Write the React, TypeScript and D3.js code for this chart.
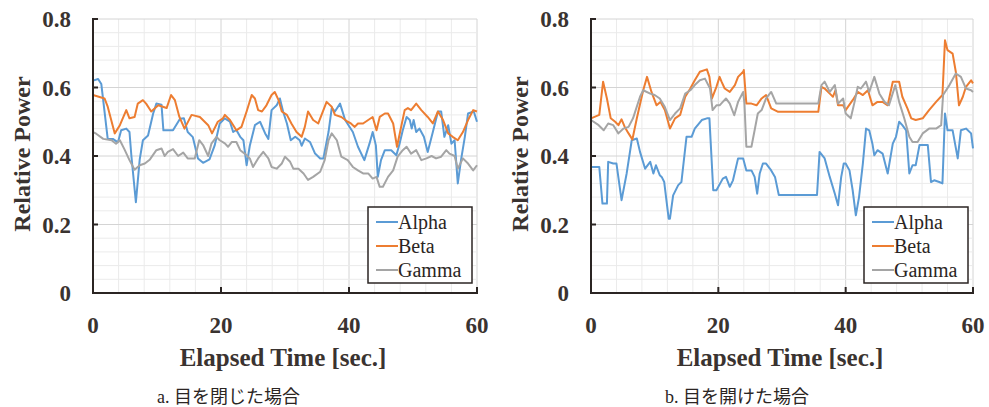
import React from "react";
import * as d3 from "d3";

type P = [number, number];

const xTicks = [0, 20, 40, 60];
const yTicks = [0, 0.2, 0.4, 0.6, 0.8];
const yTickLabels = ["0", "0.2", "0.4", "0.6", "0.8"];
const seriesNames = ["Alpha", "Beta", "Gamma"];
const seriesColors = ["#5b9bd5", "#ed7d31", "#a5a5a5"];
const captions = ["a. 目を閉じた場合", "b. 目を開けた場合"];

const alphaA: P[] = [[0,0.62],[0.8,0.625],[1.3,0.61],[2.3,0.45],[3.1,0.45],[3.9,0.44],[4.4,0.475],[5.2,0.48],[5.7,0.47],[6.0,0.40],[6.7,0.265],[7.3,0.39],[7.8,0.446],[8.6,0.46],[9.4,0.524],[9.9,0.553],[10.7,0.55],[11.0,0.475],[12.5,0.475],[13.6,0.509],[14.2,0.51],[14.8,0.47],[15.6,0.455],[16.4,0.393],[17.2,0.38],[18.2,0.39],[19.0,0.43],[19.8,0.495],[20.6,0.51],[21.4,0.5],[21.9,0.47],[22.4,0.476],[23.0,0.456],[23.5,0.446],[24.0,0.373],[24.5,0.43],[25.3,0.49],[26.1,0.5],[26.9,0.466],[27.4,0.45],[27.9,0.534],[28.7,0.548],[29.2,0.568],[29.7,0.53],[30.3,0.495],[30.9,0.446],[31.6,0.456],[32.3,0.446],[32.6,0.43],[33.1,0.451],[33.9,0.441],[34.7,0.407],[35.5,0.393],[36.0,0.393],[36.8,0.47],[37.3,0.54],[37.8,0.53],[38.6,0.553],[39.4,0.505],[40.6,0.47],[41.4,0.427],[42.4,0.388],[43.2,0.436],[43.7,0.47],[44.2,0.431],[44.5,0.339],[45.0,0.388],[45.6,0.417],[46.6,0.417],[47.4,0.402],[47.9,0.436],[48.4,0.475],[49.0,0.514],[49.5,0.505],[49.8,0.48],[50.1,0.505],[50.5,0.47],[51.0,0.48],[51.7,0.456],[52.3,0.412],[53.1,0.47],[53.9,0.53],[54.4,0.53],[54.9,0.456],[55.5,0.49],[56.0,0.436],[56.5,0.446],[57.0,0.32],[57.5,0.388],[58.1,0.456],[58.6,0.524],[59.5,0.53],[60,0.5]];

const betaA: P[] = [[0,0.578],[1.8,0.568],[2.3,0.544],[3.4,0.466],[4.2,0.49],[5.2,0.534],[5.7,0.51],[6.5,0.514],[7.0,0.553],[7.8,0.563],[8.3,0.553],[9.1,0.53],[10.2,0.548],[11.5,0.54],[12.2,0.578],[12.8,0.563],[13.5,0.514],[14.3,0.48],[15.4,0.52],[16.7,0.514],[18.0,0.49],[18.6,0.466],[19.5,0.5],[20.3,0.51],[20.6,0.52],[21.4,0.505],[22.4,0.475],[23.2,0.485],[24.0,0.53],[24.8,0.578],[25.3,0.568],[25.8,0.534],[26.4,0.53],[27.1,0.548],[27.9,0.578],[28.4,0.587],[29.0,0.563],[29.5,0.53],[30.3,0.52],[31.0,0.495],[31.8,0.47],[32.6,0.456],[33.1,0.485],[33.6,0.53],[34.4,0.505],[35.2,0.495],[36.0,0.534],[36.5,0.558],[37.3,0.544],[37.8,0.52],[38.8,0.514],[39.8,0.5],[40.3,0.495],[40.9,0.485],[41.4,0.495],[42.2,0.495],[43.0,0.505],[43.7,0.514],[44.3,0.475],[44.8,0.514],[45.6,0.524],[46.1,0.524],[46.9,0.495],[47.5,0.427],[48.2,0.49],[48.7,0.534],[49.2,0.54],[49.7,0.534],[50.5,0.553],[51.3,0.534],[52.3,0.514],[53.1,0.495],[53.9,0.53],[54.7,0.505],[55.5,0.466],[56.2,0.456],[57.0,0.446],[57.8,0.47],[58.6,0.505],[59.4,0.534],[60,0.53]];

const gammaA: P[] = [[0,0.47],[0.5,0.465],[1.6,0.45],[2.9,0.446],[3.6,0.436],[4.2,0.446],[4.9,0.42],[5.7,0.388],[6.5,0.36],[7.3,0.373],[8.1,0.378],[8.9,0.39],[9.9,0.417],[10.7,0.422],[11.2,0.40],[11.7,0.412],[12.5,0.42],[13.3,0.4],[14.1,0.41],[14.8,0.393],[15.9,0.393],[16.6,0.446],[17.2,0.432],[18.0,0.40],[18.5,0.436],[19.3,0.456],[19.8,0.446],[20.6,0.437],[21.1,0.427],[21.7,0.441],[22.4,0.441],[23.0,0.417],[23.7,0.407],[24.5,0.393],[25.0,0.368],[25.8,0.393],[26.6,0.412],[27.4,0.393],[27.9,0.368],[28.7,0.363],[29.5,0.378],[30.0,0.398],[30.8,0.383],[31.3,0.363],[32.1,0.363],[32.9,0.349],[33.6,0.33],[34.4,0.339],[35.5,0.354],[36.2,0.388],[36.8,0.446],[37.3,0.466],[38.1,0.446],[38.8,0.398],[39.8,0.388],[40.6,0.368],[41.4,0.358],[42.2,0.349],[43.0,0.349],[43.7,0.334],[44.3,0.339],[44.8,0.31],[45.3,0.31],[46.1,0.339],[46.9,0.358],[47.6,0.398],[48.4,0.417],[49.0,0.427],[49.7,0.407],[50.5,0.417],[51.3,0.388],[52.1,0.393],[52.9,0.4],[53.6,0.393],[54.4,0.398],[55.2,0.417],[55.7,0.407],[56.5,0.4],[57.0,0.363],[57.8,0.393],[58.6,0.378],[59.4,0.358],[60,0.373]];

const alphaB: P[] = [[0,0.368],[1.3,0.368],[1.8,0.261],[2.5,0.261],[2.7,0.383],[3.5,0.378],[4.0,0.378],[4.8,0.271],[5.6,0.349],[6.4,0.446],[7.2,0.451],[7.7,0.412],[8.5,0.363],[9.3,0.383],[9.8,0.349],[10.2,0.373],[10.8,0.344],[11.1,0.339],[11.5,0.324],[12.2,0.217],[12.4,0.217],[12.9,0.285],[13.7,0.315],[14.2,0.324],[15.0,0.456],[15.8,0.456],[16.3,0.48],[17.4,0.505],[18.2,0.51],[18.6,0.51],[19.2,0.3],[19.7,0.3],[20.7,0.334],[21.2,0.339],[21.8,0.31],[22.3,0.329],[23.1,0.393],[23.9,0.393],[24.4,0.358],[25.2,0.358],[25.7,0.339],[26.1,0.29],[26.5,0.349],[27.0,0.378],[27.5,0.378],[28.3,0.358],[28.9,0.339],[29.5,0.286],[35.5,0.286],[35.9,0.412],[36.7,0.393],[37.5,0.339],[38.3,0.29],[38.8,0.256],[39.3,0.339],[39.7,0.378],[40.0,0.378],[40.6,0.358],[41.1,0.30],[41.6,0.227],[42.1,0.28],[42.7,0.378],[43.2,0.48],[43.7,0.475],[44.2,0.436],[44.5,0.402],[45.0,0.417],[45.8,0.407],[46.6,0.349],[47.4,0.436],[47.9,0.456],[48.4,0.5],[48.9,0.49],[49.5,0.475],[50.0,0.349],[50.5,0.373],[51.0,0.373],[51.6,0.432],[52.9,0.432],[53.4,0.324],[53.9,0.329],[54.7,0.324],[55.2,0.32],[55.6,0.524],[56.0,0.475],[56.8,0.475],[57.6,0.393],[58.1,0.475],[58.9,0.48],[59.7,0.466],[60,0.422]];

const betaB: P[] = [[0,0.51],[1.3,0.52],[1.9,0.617],[2.5,0.568],[3.1,0.51],[3.8,0.5],[4.3,0.49],[4.8,0.507],[5.3,0.485],[5.9,0.466],[6.5,0.448],[7.2,0.51],[8.2,0.592],[8.8,0.631],[9.5,0.587],[10.3,0.548],[10.9,0.558],[11.6,0.534],[12.4,0.48],[13.2,0.51],[14.0,0.52],[14.8,0.573],[15.6,0.597],[16.3,0.621],[17.1,0.646],[18.2,0.653],[18.6,0.631],[19.0,0.568],[19.7,0.602],[20.2,0.631],[20.5,0.617],[21.0,0.597],[21.8,0.587],[22.6,0.607],[23.1,0.631],[23.9,0.646],[24.0,0.651],[24.4,0.553],[25.2,0.553],[26.0,0.548],[26.8,0.568],[27.5,0.578],[28.3,0.539],[29.4,0.529],[35.7,0.529],[36.2,0.602],[36.7,0.597],[37.5,0.582],[38.0,0.573],[38.4,0.592],[38.8,0.548],[39.6,0.548],[40.0,0.534],[41.1,0.563],[41.9,0.587],[42.7,0.578],[43.5,0.592],[44.2,0.548],[45.0,0.558],[45.8,0.558],[46.6,0.548],[47.4,0.617],[48.4,0.617],[48.9,0.573],[49.7,0.539],[50.3,0.51],[51.0,0.505],[52.1,0.51],[53.1,0.534],[54.2,0.558],[55.2,0.578],[55.6,0.738],[56.0,0.709],[56.8,0.699],[57.3,0.646],[57.8,0.548],[58.4,0.573],[58.9,0.602],[59.7,0.621],[60,0.612]];

const gammaB: P[] = [[0,0.505],[1.2,0.49],[2.0,0.475],[2.7,0.495],[3.5,0.49],[4.3,0.466],[5.1,0.48],[5.9,0.485],[6.6,0.51],[7.7,0.573],[8.2,0.592],[9.3,0.582],[10.0,0.578],[10.8,0.568],[11.6,0.543],[12.4,0.505],[13.2,0.524],[14.0,0.539],[14.8,0.582],[15.6,0.592],[16.3,0.607],[17.1,0.621],[17.9,0.626],[18.7,0.597],[19.1,0.534],[19.7,0.548],[20.2,0.548],[20.7,0.558],[21.2,0.568],[21.8,0.553],[22.5,0.519],[23.1,0.558],[23.9,0.587],[24.1,0.553],[24.4,0.427],[25.2,0.427],[25.7,0.475],[26.2,0.524],[26.8,0.534],[27.5,0.568],[28.3,0.587],[29.1,0.553],[35.7,0.553],[36.2,0.607],[36.7,0.617],[37.5,0.587],[38.3,0.607],[38.8,0.553],[39.6,0.568],[40.0,0.524],[40.8,0.51],[41.4,0.558],[41.9,0.602],[42.4,0.597],[43.2,0.617],[43.7,0.587],[44.5,0.631],[45.3,0.582],[46.1,0.558],[46.8,0.548],[47.8,0.607],[48.4,0.558],[49.2,0.51],[50.0,0.456],[50.5,0.441],[51.3,0.441],[52.1,0.466],[53.1,0.48],[54.2,0.48],[55.0,0.49],[55.3,0.578],[56.3,0.607],[57.3,0.641],[58.1,0.631],[58.9,0.597],[59.7,0.592],[60,0.587]];

const panelSeries: P[][][] = [
  [alphaA, betaA, gammaA],
  [alphaB, betaB, gammaB],
];

const SERIF = "Liberation Serif, DejaVu Serif, serif";
const CAPTION_FONT = "Liberation Serif, Noto Sans CJK JP, serif";
const INK = "#3a3330";

function Panel({ x0, x1, series, caption, capX }: { x0: number; x1: number; series: P[][]; caption: string; capX: number }) {
  const yTop = 19;
  const yBot = 293;
  const x = d3.scaleLinear().domain([0, 60]).range([x0, x1]);
  const y = d3.scaleLinear().domain([0, 0.8]).range([yBot, yTop]);
  const line = d3
    .line<P>()
    .x((d) => x(d[0]))
    .y((d) => y(d[1]));
  const minorX = d3.range(0, 61, 4);
  const minorY = d3.range(0, 0.8001, 0.04);
  const legX = x1 - 109;
  const legY = 207;
  const bold = { fontFamily: SERIF, fontWeight: 700 as const };
  return (
    <g>
      {minorX.map((t) => (
        <line key={"vx" + t} x1={x(t)} x2={x(t)} y1={yTop} y2={yBot} stroke={t % 20 === 0 ? "#d4d4d4" : "#ebebeb"} strokeWidth={1} />
      ))}
      {minorY.map((v, i) => (
        <line key={"hy" + i} x1={x0} x2={x1} y1={y(v)} y2={y(v)} stroke={i % 5 === 0 ? "#d4d4d4" : "#ebebeb"} strokeWidth={1} />
      ))}
      {series.map((s, i) => (
        <path key={i} d={line(s) || ""} fill="none" stroke={seriesColors[i]} strokeWidth={2} strokeLinejoin="round" />
      ))}
      <line x1={x0} x2={x0} y1={yTop - 1} y2={yBot + 1} stroke="#2b2523" strokeWidth={2} />
      <line x1={x0 - 1} x2={x1 + 1} y1={yBot} y2={yBot} stroke="#2b2523" strokeWidth={2} />
      {yTicks.map((v) => (
        <line key={"yt" + v} x1={x0} x2={x0 + 5} y1={y(v)} y2={y(v)} stroke="#2b2523" strokeWidth={2} />
      ))}
      {xTicks.map((t) => (
        <line key={"xt" + t} x1={x(t)} x2={x(t)} y1={yBot} y2={yBot - 6} stroke="#2b2523" strokeWidth={2} />
      ))}
      {yTicks.map((v, i) => (
        <text key={"yl" + v} x={x0 - 22} y={y(v)} dy="0.35em" textAnchor="end" style={{ ...bold, fontSize: 23 }} fill={INK}>
          {yTickLabels[i]}
        </text>
      ))}
      {xTicks.map((t) => (
        <text key={"xl" + t} x={x(t)} y={325} dy="0.35em" textAnchor="middle" style={{ ...bold, fontSize: 23 }} fill={INK}>
          {t}
        </text>
      ))}
      <text x={(x0 + x1) / 2 - 2} y={366} textAnchor="middle" style={{ ...bold, fontSize: 25 }} fill={INK}>
        Elapsed Time [sec.]
      </text>
      <text transform={`translate(${x0 - 71},154) rotate(-90)`} dy="0.35em" textAnchor="middle" style={{ ...bold, fontSize: 24 }} fill={INK}>
        Relative Power
      </text>
      <rect x={legX} y={legY} width={104} height={76} fill="#ffffff" stroke="#2b2523" strokeWidth={1.5} />
      {seriesNames.map((n, i) => (
        <g key={n}>
          <line x1={legX + 8} x2={legX + 30} y1={legY + 15 + i * 24} y2={legY + 15 + i * 24} stroke={seriesColors[i]} strokeWidth={2} />
          <text x={legX + 30} y={legY + 15 + i * 24} dy="0.35em" style={{ fontFamily: SERIF, fontSize: 20 }} fill="#2b2523">
            {n}
          </text>
        </g>
      ))}
      <text x={capX} y={397} dy="0.35em" style={{ fontFamily: CAPTION_FONT, fontSize: 18 }} fill="#2b2523">
        {caption}
      </text>
    </g>
  );
}

export default function App() {
  return (
    <svg width={989} height={407} style={{ position: "absolute", left: 0, top: 0, background: "#fff" }}>
      <rect x={0} y={0} width={989} height={407} fill="#fff" />
      <Panel x0={93} x1={477} series={panelSeries[0]} caption={captions[0]} capX={157} />
      <Panel x0={591} x1={973} series={panelSeries[1]} caption={captions[1]} capX={665} />
    </svg>
  );
}
